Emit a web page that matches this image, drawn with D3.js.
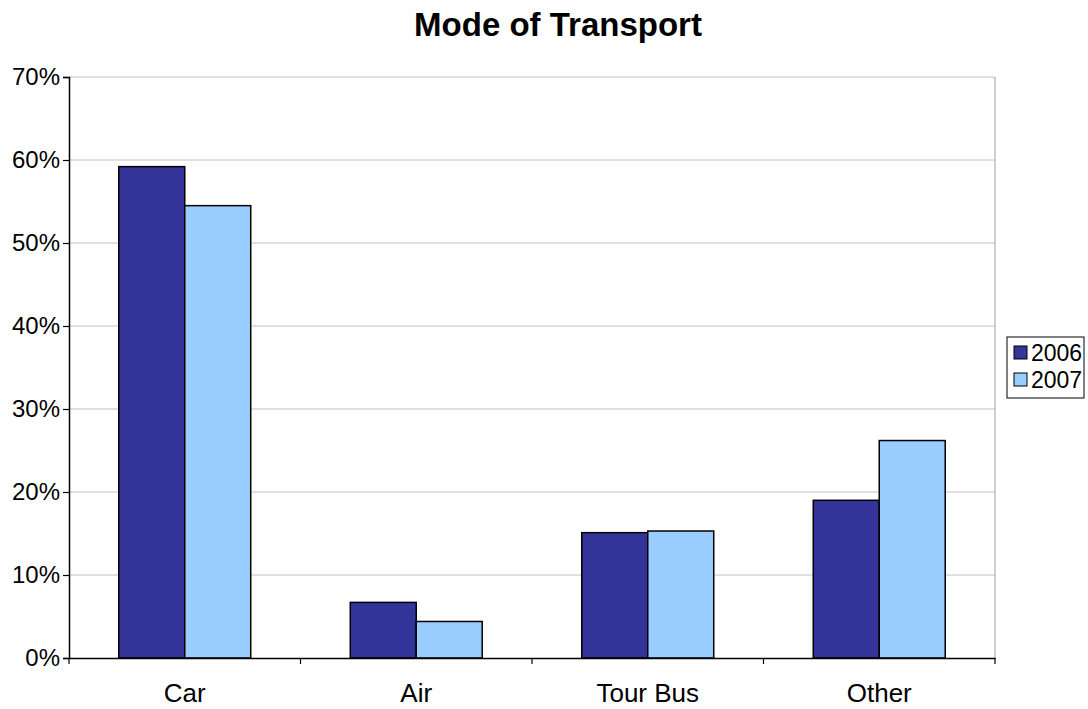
<!DOCTYPE html>
<html>
<head>
<meta charset="utf-8">
<script src="https://cdn.jsdelivr.net/npm/d3@7"></script>
<style>
  body { margin: 0; background: #fff; }
  svg { display: block; font-family: "Liberation Sans", Arial, sans-serif; }
</style>
</head>
<body>
<div id="chart"></div>
<script>
// ---- Data ----
const CATEGORIES = ['Car', 'Air', 'Tour Bus', 'Other'];
const SERIES = ['2006', '2007'];
const VALUES_2006 = [0.592, 0.067, 0.151, 0.190];
const VALUES_2007 = [0.545, 0.044, 0.153, 0.262];
const Y_TICKS = [0, 0.1, 0.2, 0.3, 0.4, 0.5, 0.6, 0.7];
const COLORS = ['#333399', '#99ccff'];

const W = 1088, H = 709;
const M = { top: 77, right: 93, bottom: 51, left: 69 };
const FONT = '"Liberation Sans", Arial, sans-serif';

const svg = d3.select('#chart').append('svg')
  .attr('width', W).attr('height', H);

const x = d3.scaleBand()
  .domain(CATEGORIES)
  .range([M.left, W - M.right]);

// the pair of bars fills ~57% of each category band
const x1 = d3.scaleBand()
  .domain(SERIES)
  .range([x.bandwidth() * 0.215, x.bandwidth() * 0.785]);

const y = d3.scaleLinear().domain([0, 0.7]).range([H - M.bottom, M.top]);

// gridlines
svg.append('g')
  .selectAll('line')
  .data(Y_TICKS.slice(1))
  .join('line')
  .attr('x1', M.left).attr('x2', W - M.right)
  .attr('y1', d => y(d)).attr('y2', d => y(d))
  .attr('stroke', '#c0c0c0').attr('stroke-width', 1);

// right border of plot area
svg.append('line')
  .attr('x1', W - M.right).attr('x2', W - M.right)
  .attr('y1', M.top).attr('y2', H - M.bottom)
  .attr('stroke', '#a0a0a0').attr('stroke-width', 1);

// bars
const rows = CATEGORIES.map((c, i) => ({ cat: c, vals: [VALUES_2006[i], VALUES_2007[i]] }));
const groups = svg.append('g').selectAll('g')
  .data(rows)
  .join('g')
  .attr('transform', d => `translate(${x(d.cat)},0)`);

groups.selectAll('rect')
  .data(d => d.vals.map((v, j) => ({ s: SERIES[j], v, j })))
  .join('rect')
  .attr('x', d => x1(d.s))
  .attr('width', x1.bandwidth())
  .attr('y', d => y(d.v))
  .attr('height', d => y(0) - y(d.v))
  .attr('fill', d => COLORS[d.j])
  .attr('stroke', '#000')
  .attr('stroke-width', 1.5);

// y axis
const yAxis = svg.append('g')
  .attr('transform', `translate(${M.left},0)`)
  .call(d3.axisLeft(y).tickValues(Y_TICKS).tickFormat(d3.format('.0%')).tickSize(6).tickPadding(3));
yAxis.select('.domain').attr('stroke', '#000').attr('stroke-width', 1.5);
yAxis.selectAll('.tick line').attr('stroke', '#000').attr('stroke-width', 1.2);
yAxis.selectAll('text').attr('font-size', 24).attr('fill', '#000')
  .attr('font-family', FONT);

// x axis
const xAxis = svg.append('g')
  .attr('transform', `translate(0,${H - M.bottom})`)
  .call(d3.axisBottom(x).tickSize(0).tickPadding(26));
xAxis.select('.domain').attr('stroke', '#000').attr('stroke-width', 1.5);
xAxis.selectAll('text').attr('font-size', 26).attr('fill', '#000')
  .attr('font-family', FONT);
// category boundary ticks
const bounds = CATEGORIES.map(c => x(c)).concat([x.range()[1]]);
xAxis.selectAll('.bound')
  .data(bounds)
  .join('line')
  .attr('class', 'bound')
  .attr('x1', d => d).attr('x2', d => d)
  .attr('y1', 0).attr('y2', 6)
  .attr('stroke', '#000').attr('stroke-width', 1.2);

// title
svg.append('text')
  .attr('x', 558)
  .attr('y', 36)
  .attr('text-anchor', 'middle')
  .attr('font-size', 33)
  .attr('font-weight', 'bold')
  .text('Mode of Transport');

// legend
const lg = svg.append('g').attr('transform', 'translate(1007,337)');
lg.append('rect')
  .attr('width', 77).attr('height', 61)
  .attr('fill', '#fff').attr('stroke', '#000').attr('stroke-width', 1);
const items = lg.selectAll('g.item')
  .data(SERIES)
  .join('g')
  .attr('class', 'item')
  .attr('transform', (d, i) => `translate(7,${9 + i * 27})`);
items.append('rect')
  .attr('width', 13).attr('height', 13)
  .attr('fill', (d, i) => COLORS[i])
  .attr('stroke', '#000').attr('stroke-width', 1);
items.append('text')
  .attr('x', 17).attr('y', 7)
  .attr('dy', '0.36em')
  .attr('font-size', 23)
  .text(d => d);
</script>
</body>
</html>
